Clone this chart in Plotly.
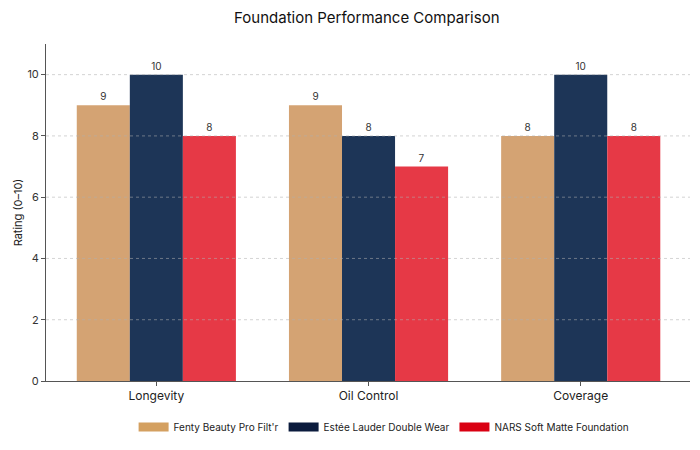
import plotly.graph_objects as go

categories = ["Longevity", "Oil Control", "Coverage"]
series_names = ["Fenty Beauty Pro Filt'r", "Estée Lauder Double Wear", "NARS Soft Matte Foundation"]
fenty = [9, 9, 8]
estee = [10, 8, 10]
nars = [8, 7, 8]
y_ticks = [0, 2, 4, 6, 8, 10]

bar_colors = ["#D4A373", "#1D3557", "#E63946"]
legend_colors = ["#D4A060", "#0B1B3D", "#D90012"]

FONT = "Inter"

fig = go.Figure()
for name, vals, col in zip(series_names, [fenty, estee, nars], bar_colors):
    fig.add_trace(go.Bar(
        x=categories, y=vals, name=name, marker=dict(color=col, line=dict(width=0)),
        text=[str(v) for v in vals], textposition="outside",
        textfont=dict(size=10, color="#333333", family=FONT),
        cliponaxis=False, showlegend=False,
    ))
for name, col in zip(series_names, legend_colors):
    fig.add_trace(go.Scatter(
        x=[None], y=[None], mode="lines", name=name,
        line=dict(color=col, width=9), showlegend=True,
    ))

# gridlines drawn above bars (as in the reference)
for t in y_ticks[1:]:
    fig.add_shape(type="line", xref="paper", yref="y", x0=0, x1=1, y0=t, y1=t,
                  line=dict(color="rgba(175,175,175,0.55)", width=1, dash="3px,3px"),
                  layer="above")

fig.update_layout(
    width=700, height=450,
    margin=dict(l=46, r=10, t=44, b=69, autoexpand=False),
    paper_bgcolor="white", plot_bgcolor="white",
    font=dict(family=FONT, color="#222222"),
    title=dict(text="Foundation Performance Comparison", x=0.524, xanchor="center",
               y=0.96, yanchor="middle", font=dict(size=15, color="#111111", family=FONT)),
    barmode="group", bargap=0.25, bargroupgap=0,
    legend=dict(orientation="h", x=0.525, xanchor="center", yref="container",
                y=0.051, yanchor="middle",
                font=dict(size=10, color="#222222", family=FONT), itemwidth=30,
                tracegroupgap=0),
    xaxis=dict(showgrid=False, showline=True, linecolor="#555555", linewidth=1,
               ticks="outside", ticklen=4, tickcolor="#555555", automargin=False,
               tickfont=dict(size=12, color="#222222"), range=[-0.52, 2.515]),
    yaxis=dict(range=[0, 11], tickvals=y_ticks, showgrid=False, zeroline=False,
               showline=True, linecolor="#555555", linewidth=1, automargin=False,
               ticks="outside", ticklen=4, tickcolor="#555555",
               tickfont=dict(size=11, color="#333333"),
               title=dict(text="Rating (0–10)", font=dict(size=11, color="#222222"), standoff=2)),
)

fig.write_html("out.html")
